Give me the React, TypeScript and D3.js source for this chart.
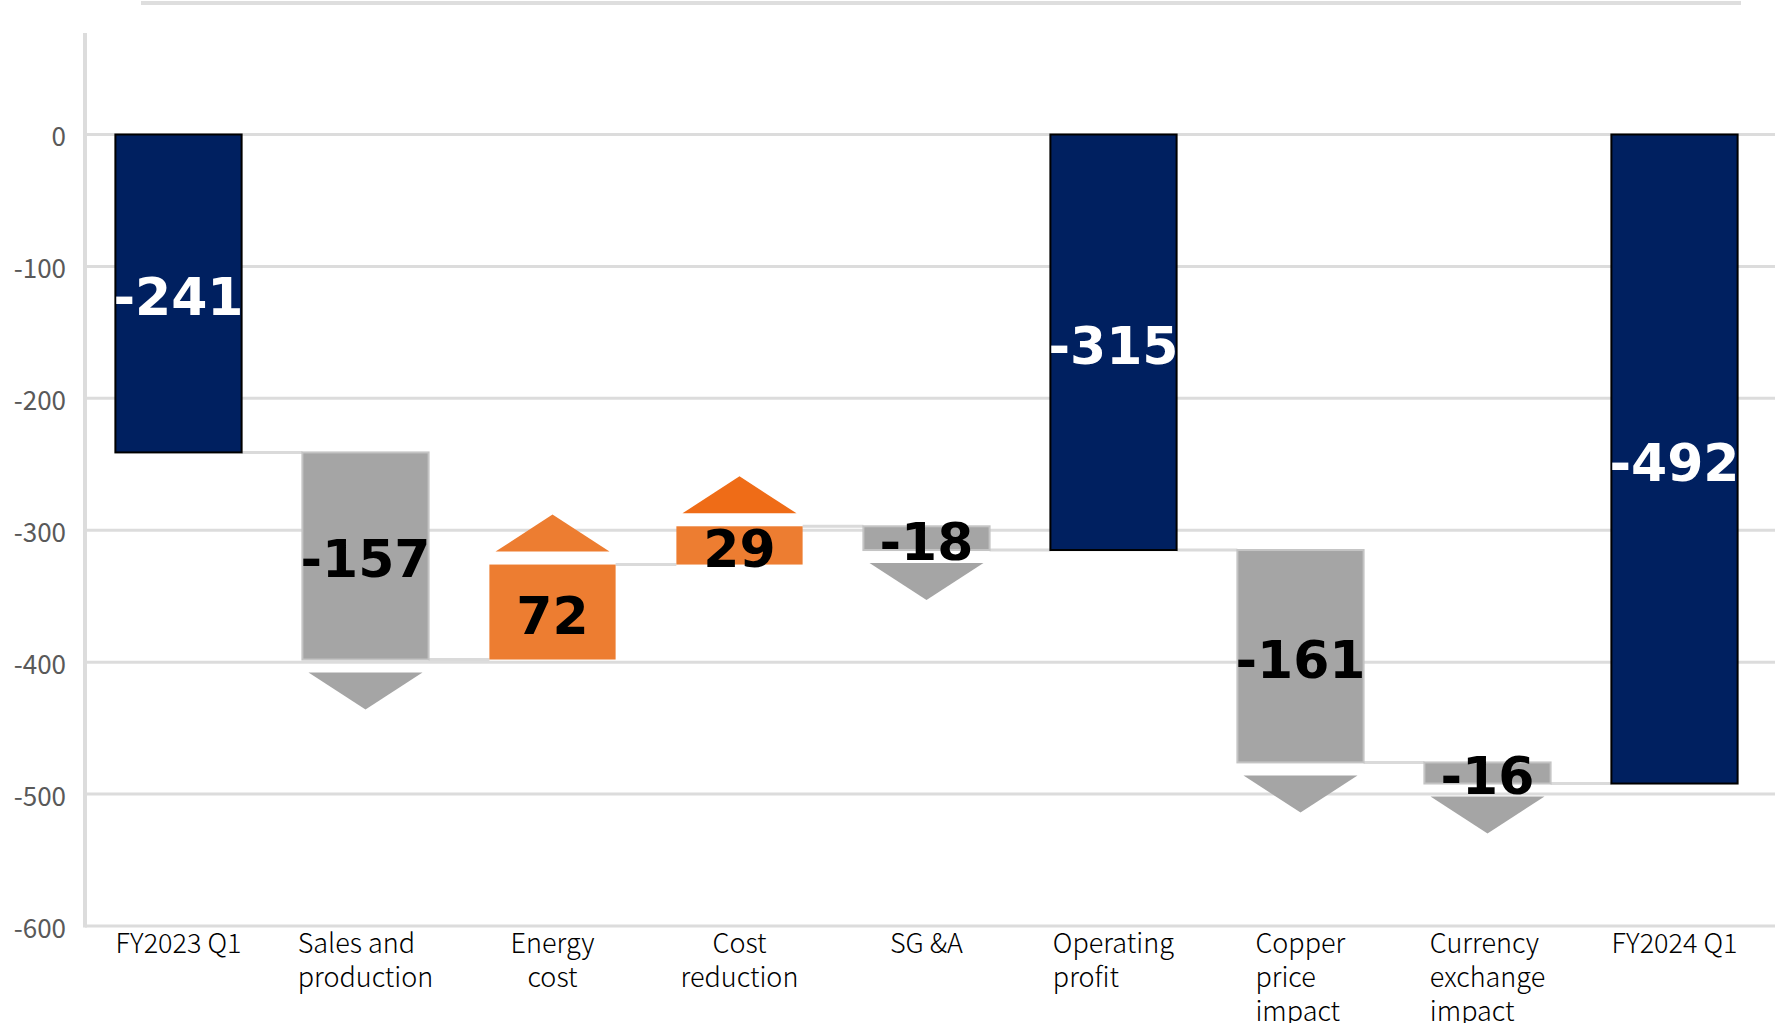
import React, { useEffect, useRef } from "react";
import * as d3 from "d3";

const categories: string[][] = [
  ["FY2023 Q1"],
  ["Sales and", "production"],
  ["Energy", "cost"],
  ["Cost", "reduction"],
  ["SG &A"],
  ["Operating", "profit"],
  ["Copper", "price", "impact"],
  ["Currency", "exchange", "impact"],
  ["FY2024 Q1"],
];
const values: number[] = [-241, -157, 72, 29, -18, -315, -161, -16, -492];
const kinds: string[] = ["total", "delta", "delta", "delta", "delta", "total", "delta", "delta", "total"];
const labelAligns: string[] = ["block", "block", "middle", "middle", "block", "block", "block", "block", "block"];
const yTicks: number[] = [0, -100, -200, -300, -400, -500, -600];
const upArrowColors: string[] = ["#ED7D31", "#EF6C17"];

const W = 1775;
const H = 1023;

export default function App() {
  const ref = useRef<SVGSVGElement | null>(null);

  useEffect(() => {
    const svg = d3.select(ref.current);
    svg.selectAll("*").remove();

    const idx = categories.map((_, i) => String(i));
    const x = d3.scaleBand<string>().domain(idx).range([85, 1768]).paddingInner(0.325).paddingOuter(0.1625);
    const y = d3.scaleLinear().domain([-600, 0]).range([926, 134.5]);
    const bw = x.bandwidth();

    let run = 0;
    const bars = values.map((v, i) => {
      let start: number, end: number;
      if (kinds[i] === "total") {
        start = 0;
        end = v;
      } else {
        start = run;
        end = run + v;
      }
      run = end;
      return { i, v, start, end, kind: kinds[i] };
    });

    svg.append("line").attr("x1", 141).attr("x2", 1741).attr("y1", 3).attr("y2", 3)
      .attr("stroke", "#dedede").attr("stroke-width", 4);

    svg.append("g").selectAll("line").data(yTicks).join("line")
      .attr("x1", 85).attr("x2", W).attr("y1", (d) => y(d)).attr("y2", (d) => y(d))
      .attr("stroke", "#dcdcdc").attr("stroke-width", 3);

    svg.append("line").attr("x1", 85).attr("x2", 85).attr("y1", 33).attr("y2", y(-600) + 1.5)
      .attr("stroke", "#dcdcdc").attr("stroke-width", 4);

    svg.append("g").selectAll("text").data(yTicks).join("text")
      .attr("x", 66).attr("y", (d) => y(d)).attr("text-anchor", "end")
      .attr("dominant-baseline", "central")
      .attr("font-family", "'Noto Sans CJK JP', 'Noto Sans', sans-serif")
      .attr("font-weight", 400)
      .attr("font-size", 26).attr("fill", "#595959")
      .text((d) => String(d));

    const conn = svg.append("g");
    for (let i = 0; i < bars.length - 1; i++) {
      const lvl = bars[i].end;
      conn.append("line")
        .attr("x1", (x(String(i)) as number) + bw).attr("x2", x(String(i + 1)) as number)
        .attr("y1", y(lvl)).attr("y2", y(lvl))
        .attr("stroke", "#dadada").attr("stroke-width", 3);
    }

    const g = svg.append("g");
    bars.forEach((b) => {
      const top = Math.max(b.start, b.end);
      const bot = Math.min(b.start, b.end);
      let fill = "#002060", stroke = "#000000", sw = 2;
      if (b.kind === "delta") {
        if (b.v < 0) { fill = "#A5A5A5"; stroke = "#c4c4c4"; sw = 2; }
        else { fill = "#ED7D31"; stroke = "none"; sw = 0; }
      }
      g.append("rect")
        .attr("x", x(String(b.i)) as number).attr("y", y(top))
        .attr("width", bw).attr("height", y(bot) - y(top))
        .attr("fill", fill).attr("stroke", stroke).attr("stroke-width", sw);
    });

    const aw = 114, ah = 37, gap = 13;
    let upCount = 0;
    bars.forEach((b) => {
      if (b.kind !== "delta") return;
      const cx = (x(String(b.i)) as number) + bw / 2;
      if (b.v < 0) {
        const yt = y(b.end) + gap;
        g.append("path")
          .attr("d", `M${cx - aw / 2},${yt} L${cx + aw / 2},${yt} L${cx},${yt + ah} Z`)
          .attr("fill", "#A5A5A5");
      } else {
        const yb = y(b.end) - gap;
        g.append("path")
          .attr("d", `M${cx - aw / 2},${yb} L${cx + aw / 2},${yb} L${cx},${yb - ah} Z`)
          .attr("fill", upArrowColors[upCount % upArrowColors.length]);
        upCount++;
      }
    });

    bars.forEach((b) => {
      const cx = (x(String(b.i)) as number) + bw / 2;
      const cy = y((b.start + b.end) / 2) + 3.5;
      svg.append("text")
        .attr("x", cx).attr("y", cy).attr("text-anchor", "middle")
        .attr("dominant-baseline", "central")
        .attr("font-family", "'DejaVu Sans', sans-serif").attr("font-weight", "bold")
        .attr("font-size", 52)
        .attr("fill", b.kind === "total" ? "#ffffff" : "#000000")
        .text(String(b.v));
    });

    categories.forEach((lines, i) => {
      const cx = (x(String(i)) as number) + bw / 2;
      const align = labelAligns[i];
      const t = svg.append("text")
        .attr("font-family", "'Noto Sans CJK JP', 'Noto Sans', sans-serif")
        .attr("font-weight", 300)
        .attr("font-size", 27).attr("fill", "#000000")
        .attr("text-anchor", align === "middle" ? "middle" : "start");
      lines.forEach((ln, k) => {
        t.append("tspan").attr("x", align === "middle" ? cx : 0).attr("y", 953 + k * 34).text(ln);
      });
      if (align !== "middle") {
        const w = (t.node() as SVGTextElement).getBBox().width;
        t.selectAll("tspan").attr("x", cx - w / 2);
      }
    });
  }, []);

  return (
    <div style={{ position: "absolute", left: 0, top: 0 }}>
      <svg ref={ref} width={W} height={H} style={{ display: "block", background: "#ffffff" }} />
    </div>
  );
}
